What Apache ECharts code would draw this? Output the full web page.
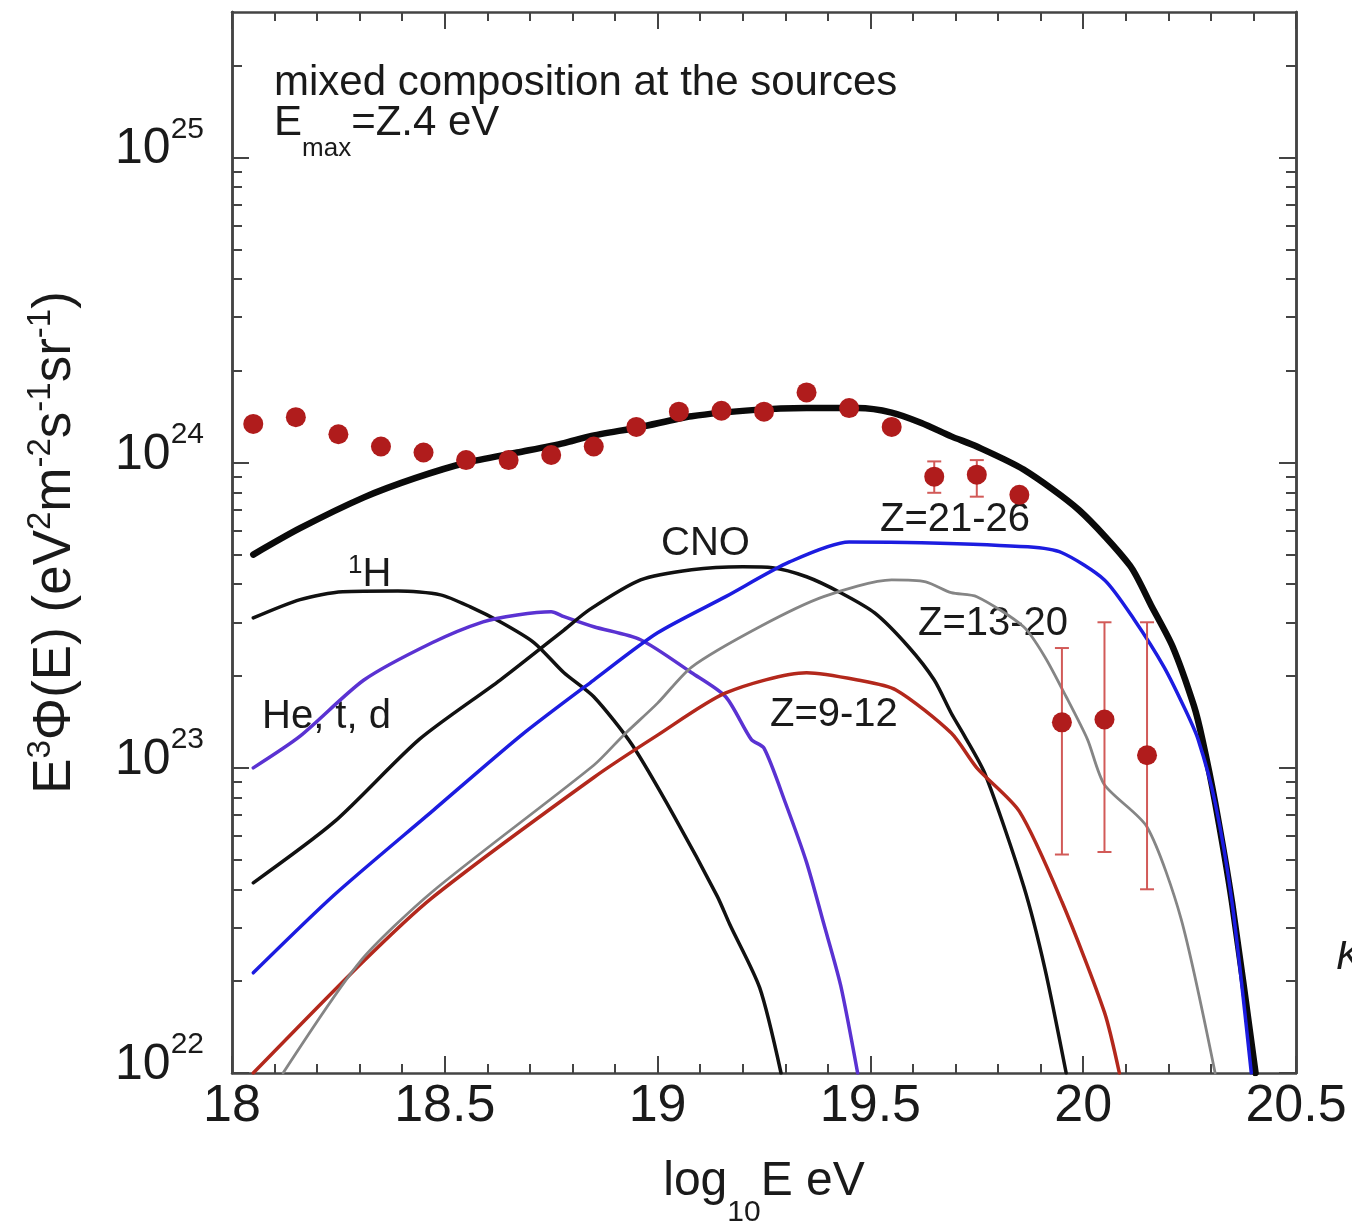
<!DOCTYPE html>
<html>
<head>
<meta charset="utf-8">
<script src="https://cdn.jsdelivr.net/npm/echarts@6/dist/echarts.min.js"></script>
<style>
  html, body { margin: 0; padding: 0; background: #fff; }
  #chart { width: 1352px; height: 1224px; }
</style>
</head>
<body>
<div id="chart"></div>
<script>
const FONT = '"Liberation Sans", Arial, Helvetica, sans-serif';
const INK = '#1a1a1a';

// all-particle model (thick black)
const totalX = [18.05, 18.16, 18.31, 18.43, 18.55, 18.67, 18.78, 18.84, 18.96, 19.08, 19.23, 19.35, 19.47, 19.55, 19.62, 19.69, 19.75, 19.86, 19.99, 20.11, 20.16, 20.21, 20.26, 20.28, 20.31, 20.35, 20.405];
const totalY = [5.0e23, 6.1e23, 7.7e23, 8.9e23, 1.0e24, 1.08e24, 1.16e24, 1.22e24, 1.31e24, 1.42e24, 1.49e24, 1.51e24, 1.51e24, 1.46e24, 1.35e24, 1.22e24, 1.13e24, 9.5e23, 7.0e23, 4.6e23, 3.4e23, 2.5e23, 1.6e23, 1.24e23, 7.7e22, 3.6e22, 1.0e22];

// 1H
const protonX = [18.05, 18.16, 18.26, 18.39, 18.49, 18.56, 18.63, 18.71, 18.78, 18.85, 18.94, 19.04, 19.14, 19.17, 19.24, 19.29];
const protonY = [3.1e23, 3.56e23, 3.78e23, 3.8e23, 3.69e23, 3.37e23, 3.01e23, 2.57e23, 2.05e23, 1.71e23, 1.19e23, 6.9e22, 3.8e22, 3.06e22, 1.9e22, 1.0e22];

// He, t, d
const heX = [18.05, 18.16, 18.31, 18.47, 18.59, 18.67, 18.75, 18.78, 18.85, 18.96, 19.08, 19.16, 19.22, 19.25, 19.3, 19.35, 19.39, 19.43, 19.47];
const heY = [1.0e23, 1.27e23, 1.94e23, 2.57e23, 3.01e23, 3.17e23, 3.25e23, 3.13e23, 2.9e23, 2.63e23, 2.05e23, 1.71e23, 1.24e23, 1.16e23, 7.7e22, 4.9e22, 3.1e22, 1.94e22, 1.0e22];

// CNO
const cnoX = [18.05, 18.24, 18.44, 18.63, 18.78, 18.84, 18.96, 19.08, 19.2, 19.27, 19.35, 19.43, 19.51, 19.59, 19.65, 19.69, 19.72, 19.77, 19.86, 19.91, 19.96];
const cnoY = [4.2e22, 6.65e22, 1.24e23, 1.94e23, 2.83e23, 3.3e23, 4.13e23, 4.46e23, 4.56e23, 4.53e23, 4.23e23, 3.75e23, 3.22e23, 2.49e23, 1.94e23, 1.51e23, 1.28e23, 9.5e22, 4.1e22, 2.2e22, 1.0e22];

// Z=9-12
const z9X = [18.05, 18.3, 18.47, 18.85, 19.0, 19.16, 19.35, 19.47, 19.56, 19.69, 19.75, 19.85, 19.95, 20.05, 20.085];
const z9Y = [1.0e22, 2.26e22, 3.75e22, 9.3e22, 1.28e23, 1.76e23, 2.05e23, 1.94e23, 1.8e23, 1.3e23, 1.0e23, 7.2e22, 3.64e22, 1.58e22, 1.0e22];

// Z=13-20
const z13X = [18.12, 18.3, 18.47, 18.85, 18.92, 19.0, 19.08, 19.24, 19.39, 19.55, 19.63, 19.69, 19.75, 19.86, 19.91, 19.96, 20.01, 20.05, 20.15, 20.23, 20.31];
const z13Y = [1.0e22, 2.31e22, 3.92e22, 1.02e23, 1.28e23, 1.63e23, 2.14e23, 2.9e23, 3.64e23, 4.13e23, 4.07e23, 3.75e23, 3.64e23, 2.9e23, 2.31e23, 1.71e23, 1.24e23, 8.8e22, 6.4e22, 3.2e22, 1.0e22];

// Z=21-26
const z21X = [18.05, 18.24, 18.47, 18.68, 18.85, 19.0, 19.16, 19.31, 19.45, 19.62, 19.87, 19.95, 20.05, 20.12, 20.19, 20.24, 20.27, 20.31, 20.35, 20.395];
const z21Y = [2.13e22, 3.83e22, 7.2e22, 1.28e23, 1.94e23, 2.77e23, 3.64e23, 4.73e23, 5.5e23, 5.47e23, 5.3e23, 5.07e23, 4.13e23, 3.06e23, 2.14e23, 1.55e23, 1.24e23, 7.7e22, 3.6e22, 1.0e22];

// measured spectrum
const pointX = [18.05, 18.15, 18.25, 18.35, 18.45, 18.55, 18.65, 18.75, 18.85, 18.95, 19.05, 19.15, 19.25, 19.35, 19.45, 19.55, 19.65, 19.75, 19.85, 19.95, 20.05, 20.15];
const pointY = [1.34e24, 1.41e24, 1.24e24, 1.13e24, 1.08e24, 1.02e24, 1.02e24, 1.06e24, 1.13e24, 1.31e24, 1.47e24, 1.48e24, 1.47e24, 1.7e24, 1.51e24, 1.31e24, 9.0e23, 9.14e23, 7.85e23, 1.41e23, 1.44e23, 1.1e23];
const errLow = [null, null, null, null, null, null, null, null, null, null, null, null, null, null, null, null, 7.97e23, 7.74e23, null, 5.2e22, 5.3e22, 4.0e22];
const errHigh = [null, null, null, null, null, null, null, null, null, null, null, null, null, null, null, null, 1.01e24, 1.02e24, null, 2.47e23, 3.0e23, 3.0e23];

// axis ticks
const yMajor = [1e22, 1e23, 1e24, 1e25];
const yMinor = [2e22, 3e22, 4e22, 5e22, 6e22, 7e22, 8e22, 9e22,
                2e23, 3e23, 4e23, 5e23, 6e23, 7e23, 8e23, 9e23,
                2e24, 3e24, 4e24, 5e24, 6e24, 7e24, 8e24, 9e24, 2e25];

const zip = (xs, ys) => xs.map((x, i) => [x, ys[i]]);

function curve(name, xs, ys, color, width, z) {
  return {
    name: name, type: 'line', data: zip(xs, ys),
    symbol: 'none', showSymbol: false, silent: true, z: z, smooth: 0.25,
    lineStyle: { color: color, width: width, cap: 'round', join: 'round' }
  };
}

const errData = [];
pointX.forEach((x, i) => {
  if (errLow[i] != null) errData.push([x, errLow[i], errHigh[i]]);
});

const axisLine = { show: true, lineStyle: { color: '#444', width: 2.5 } };

function yAxisDef(position, tickValues, len, withLabels) {
  const ax = {
    type: 'log', logBase: 10, min: 1e22, max: 3e25, position: position,
    axisLine: axisLine, splitLine: { show: false },
    axisTick: { show: true, inside: true, length: len, customValues: tickValues, lineStyle: { color: '#444', width: 2 } },
    axisLabel: { show: false }
  };
  if (withLabels) {
    ax.axisLabel = {
      show: true, customValues: yMajor, margin: 28, padding: [0, 0, 16, 0],
      formatter: v => '{b|10}{s|' + Math.round(Math.log10(v)) + '}',
      rich: {
        b: { fontFamily: FONT, fontSize: 50, color: INK, lineHeight: 70, verticalAlign: 'middle' },
        s: { fontFamily: FONT, fontSize: 30, color: INK, verticalAlign: 'top', lineHeight: 30 }
      }
    };
    ax.name = '{a|E}{s|3}{a|Φ(E) (eV}{s|2}{a|m}{s|-2}{a|s}{s|-1}{a|sr}{s|-1}{a|)}';
    ax.nameLocation = 'middle';
    ax.nameRotate = 90;
    ax.nameGap = 146;
    ax.nameTextStyle = {
      rich: {
        a: { fontFamily: FONT, fontSize: 53, color: INK, lineHeight: 62, verticalAlign: 'middle' },
        s: { fontFamily: FONT, fontSize: 33, color: INK, verticalAlign: 'top', lineHeight: 33 }
      }
    };
  }
  return ax;
}

function xAxisDef(position, withLabels) {
  const ax = {
    type: 'value', min: 18, max: 20.5, interval: 0.5, position: position,
    axisLine: axisLine, splitLine: { show: false },
    axisTick: { show: true, inside: true, length: 17, lineStyle: { color: '#444', width: 2 } },
    minorTick: { show: true, splitNumber: 5, length: 9, lineStyle: { color: '#444', width: 2 } },
    axisLabel: { show: false }
  };
  if (withLabels) {
    ax.axisLabel = {
      show: true, margin: 8, fontFamily: FONT, fontSize: 52, color: INK,
      showMinLabel: true, showMaxLabel: true, hideOverlap: false
    };
    ax.name = '{a|log}{s|10}{a|E eV}';
    ax.nameLocation = 'middle';
    ax.nameGap = 85;
    ax.nameTextStyle = {
      rich: {
        a: { fontFamily: FONT, fontSize: 48, color: INK, lineHeight: 50, verticalAlign: 'top' },
        s: { fontFamily: FONT, fontSize: 30, color: INK, verticalAlign: 'bottom', lineHeight: 70 }
      }
    };
  }
  return ax;
}

function note(left, top, text, rich) {
  return { type: 'text', left: left, top: top, silent: true, style: { text: text, rich: rich } };
}
const lab = (size, lh, extra) => Object.assign({ fontFamily: FONT, fontSize: size, lineHeight: lh, fill: INK, color: INK, verticalAlign: 'middle' }, extra || {});

const chart = echarts.init(document.getElementById('chart'), null, { renderer: 'canvas' });
chart.setOption({
  backgroundColor: '#fff',
  animation: false,
  grid: { left: 232, top: 12, width: 1064, height: 1061, outerBoundsMode: 'none', containLabel: false },
  xAxis: [xAxisDef('bottom', true), xAxisDef('top', false)],
  yAxis: [
    yAxisDef('left', yMajor, 17, true),
    yAxisDef('left', yMinor, 10, false),
    yAxisDef('right', yMajor, 17, false),
    yAxisDef('right', yMinor, 10, false)
  ],
  series: [
    curve('1H', protonX, protonY, '#111', 3.5, 2),
    curve('He, t, d', heX, heY, '#5a32d2', 3.5, 2),
    curve('CNO', cnoX, cnoY, '#111', 3.5, 2),
    curve('Z=9-12', z9X, z9Y, '#b3281c', 3.5, 2),
    curve('Z=13-20', z13X, z13Y, '#858585', 2.8, 2),
    curve('total', totalX, totalY, '#0a0a0a', 6.5, 3),
    curve('Z=21-26', z21X, z21Y, '#1c1ce0', 3.5, 4),
    {
      type: 'custom', name: 'errors', data: errData, z: 5, silent: true,
      encode: { x: 0, y: [1, 2] },
      renderItem: function (params, api) {
        const x = api.value(0);
        const lo = api.coord([x, api.value(1)]);
        const hi = api.coord([x, api.value(2)]);
        const st = { stroke: '#d25a58', lineWidth: 2 };
        const w = 7;
        return {
          type: 'group',
          children: [
            { type: 'line', shape: { x1: lo[0], y1: lo[1], x2: hi[0], y2: hi[1] }, style: st },
            { type: 'line', shape: { x1: lo[0] - w, y1: lo[1], x2: lo[0] + w, y2: lo[1] }, style: st },
            { type: 'line', shape: { x1: hi[0] - w, y1: hi[1], x2: hi[0] + w, y2: hi[1] }, style: st }
          ]
        };
      }
    },
    {
      type: 'scatter', name: 'data', data: zip(pointX, pointY), z: 6, silent: true,
      symbol: 'circle', symbolSize: 20, itemStyle: { color: '#b01c1c', opacity: 1 }
    }
  ],
  graphic: [
    note(274, 62, '{a|mixed composition at the sources}', { a: lab(42, 42) }),
    note(274, 102, '{a|E}{b|max}{a|=Z.4 eV}', { a: lab(42, 78), b: lab(26, 78, { verticalAlign: 'bottom' }) }),
    note(348, 553, '{s|1}{a|H}', { a: lab(40, 44), s: lab(26, 26, { verticalAlign: 'top' }) }),
    note(262, 697, '{a|He, t, d}', { a: lab(40, 40) }),
    note(661, 524, '{a|CNO}', { a: lab(40, 40) }),
    note(880, 500, '{a|Z=21-26}', { a: lab(40, 40) }),
    note(918, 604, '{a|Z=13-20}', { a: lab(40, 40) }),
    note(770, 695, '{a|Z=9-12}', { a: lab(40, 40) }),
    note(1336, 938, '{a|K}', { a: lab(40, 40, { fontStyle: 'italic' }) })
  ]
});
</script>
</body>
</html>
